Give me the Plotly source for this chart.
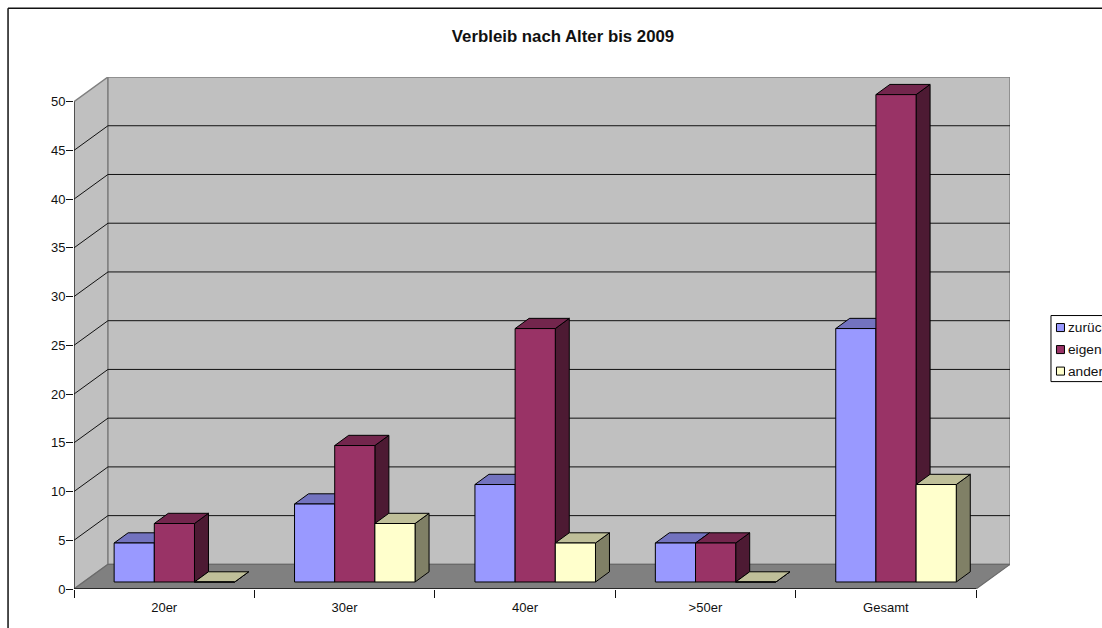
import plotly.graph_objects as go

categories = ["20er", "30er", "40er", ">50er", "Gesamt"]
zurueck = [4, 8, 10, 4, 26]
eigene = [6, 14, 26, 4, 50]
andere = [0, 6, 4, 0, 10]
series_names = ["zurück", "eigene", "andere"]
y_ticks = [0, 5, 10, 15, 20, 25, 30, 35, 40, 45, 50]

W, H = 1102, 628
LEFT, RIGHT, TOP, BOTTOM = 74.0, 1010.5, 77.2, 588.7
PX_X = 180.52   # px per category
PX_Y = 9.74     # px per value unit
WALL_DX = 34 / PX_X
WALL_DY = 24.6 / PX_Y
BAR_W = 40.2 / PX_X
BAR_DX = 14 / PX_X
BAR_DY = 10.2 / PX_Y
BASE_DX = 10.2 / PX_X
BASE_DY = 7.0 / PX_Y
Y_MAX = 50
N = len(categories)

front_cols = ["#9999FF", "#993366", "#FFFFCC"]
top_cols = ["#7373BF", "#73264D", "#BFBF99"]
side_cols = ["#4D4D80", "#4D1A33", "#808066"]

fig = go.Figure()


def poly(polys, fill, line="black", width=1):
    xs, ys = [], []
    for p in polys:
        xs += [a for a, _ in p] + [p[0][0], None]
        ys += [b for _, b in p] + [p[0][1], None]
    fig.add_trace(go.Scatter(x=xs, y=ys, mode="lines", fill="toself", fillcolor=fill,
                             line=dict(color=line, width=width), cliponaxis=False,
                             hoverinfo="skip", showlegend=False))


def path(xs, ys, color, width=1):
    fig.add_trace(go.Scatter(x=xs, y=ys, mode="lines", line=dict(color=color, width=width),
                             cliponaxis=False, hoverinfo="skip", showlegend=False))


# walls and floor
poly([[(0, 0), (WALL_DX, WALL_DY), (WALL_DX, Y_MAX + WALL_DY), (0, Y_MAX)]], "#C0C0C0", "#808080", 1.5)
poly([[(WALL_DX, WALL_DY), (N + WALL_DX, WALL_DY), (N + WALL_DX, Y_MAX + WALL_DY), (WALL_DX, Y_MAX + WALL_DY)]],
     "#C0C0C0", "#808080", 1.5)
poly([[(0, 0), (N, 0), (N + WALL_DX, WALL_DY), (WALL_DX, WALL_DY)]], "#808080", "#6a6a6a", 1.2)

# gridlines
gx, gy = [], []
for v in y_ticks[1:-1]:
    gx += [0, WALL_DX, N + WALL_DX, None]
    gy += [v, v + WALL_DY, v + WALL_DY, None]
path(gx, gy, "#111111", 1)

# axis lines
path([0, 0], [0, Y_MAX], "#111111", 1)
path([0, N], [0, 0], "#111111", 1.3)

# bars: painter's order, series by series
for s, values in enumerate([zurueck, eigene, andere]):
    fronts, tops, sides = [], [], []
    for i, v in enumerate(values):
        x0 = i + 0.5 + BASE_DX + (s - 1.5) * BAR_W
        x1 = x0 + BAR_W
        y0 = BASE_DY
        y1 = BASE_DY + v
        fronts.append([(x0, y0), (x1, y0), (x1, y1), (x0, y1)])
        tops.append([(x0, y1), (x1, y1), (x1 + BAR_DX, y1 + BAR_DY), (x0 + BAR_DX, y1 + BAR_DY)])
        sides.append([(x1, y0), (x1 + BAR_DX, y0 + BAR_DY), (x1 + BAR_DX, y1 + BAR_DY), (x1, y1)])
    poly(sides, side_cols[s])
    poly(tops, top_cols[s])
    poly(fronts, front_cols[s])

# carrier of the category axis
fig.add_trace(go.Scatter(x=categories, y=[0] * N, mode="markers", marker=dict(opacity=0, size=1),
                         xaxis="x2", hoverinfo="skip", showlegend=False))


def px(x):
    return (x - LEFT) / (RIGHT - LEFT)


def py(y):
    return (BOTTOM - y) / (BOTTOM - TOP)


shapes = [
    dict(type="line", xref="paper", yref="paper", x0=px(8), x1=px(8), y0=py(8.5), y1=py(640),
         line=dict(color="#111111", width=1.5)),
    dict(type="line", xref="paper", yref="paper", x0=px(8), x1=px(1110), y0=py(8.5), y1=py(8.5),
         line=dict(color="#111111", width=1.5)),
    dict(type="rect", xref="paper", yref="paper", x0=px(1051.5), x1=px(1112), y0=py(315.5), y1=py(381.5),
         line=dict(color="black", width=1), fillcolor="white"),
]
annotations = []
for k, (name, col, yc) in enumerate(zip(series_names, front_cols, [327.5, 349.5, 371])):
    shapes.append(dict(type="rect", xref="paper", yref="paper", x0=px(1057), x1=px(1065),
                       y0=py(yc - 4), y1=py(yc + 4), fillcolor=col, line=dict(color="black", width=1)))
    annotations.append(dict(xref="paper", yref="paper", x=px(1068), y=py(yc), text=name, showarrow=False,
                            xanchor="left", yanchor="middle", xshift=-1, align="left",
                            font=dict(family="Liberation Sans", size=13.7, color="#111111")))

fig.update_layout(
    width=W, height=H, autosize=False,
    margin=dict(l=LEFT, r=W - RIGHT, t=TOP, b=H - BOTTOM, pad=0, autoexpand=False),
    paper_bgcolor="white", plot_bgcolor="white",
    font=dict(family="Liberation Sans", size=13, color="#111111"),
    showlegend=False,
    title=dict(text="<b>Verbleib nach Alter bis 2009</b>", x=563 / W, xanchor="center", xref="container",
               y=1 - 36 / H, yanchor="middle", font=dict(family="Liberation Sans", size=16.8, color="#111111")),
    xaxis=dict(type="linear", range=[0, N + WALL_DX], showgrid=False, zeroline=False, showline=False,
               showticklabels=False, ticks=""),
    xaxis2=dict(type="category", overlaying="x", anchor="y", side="bottom", range=[-0.5, N - 0.5 + WALL_DX],
                categoryorder="array", categoryarray=categories, tickson="boundaries", ticks="outside",
                ticklen=8, tickwidth=1, tickcolor="#111111", showgrid=False, zeroline=False, showline=False,
                ticklabelstandoff=9, tickfont=dict(size=13)),
    yaxis=dict(range=[0, Y_MAX + WALL_DY], tickvals=y_ticks, ticks="outside", ticklen=7, tickwidth=1,
               tickcolor="#111111", showgrid=False, zeroline=False, showline=False,
               ticklabelstandoff=-2, tickfont=dict(size=13)),
    shapes=shapes, annotations=annotations,
)

fig.write_html("out.html", config=dict(displayModeBar=False),
               post_script="document.body.style.margin='0';document.body.style.overflow='hidden';")
